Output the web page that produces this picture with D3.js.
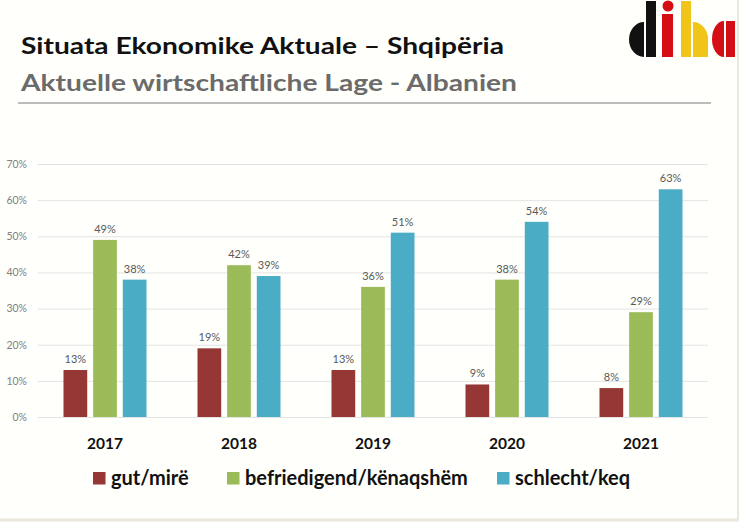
<!DOCTYPE html>
<html>
<head>
<meta charset="utf-8">
<script src="https://cdn.jsdelivr.net/npm/d3@7"></script>
<style>
	html, body { margin:0; padding:0; background:#fffffc; }
	#chart { width:744px; height:522px; }
	text { font-family: Lato, "Open Sans", sans-serif; }
</style>
</head>
<body>
<div id="chart"></div>
<script>

const years = ["2017","2018","2019","2020","2021"];
const seriesNames = ["gut/mirë","befriedigend/kënaqshëm","schlecht/keq"];
const gutValues = [13,19,13,9,8];
const befriedigendValues = [49,42,36,38,29];
const schlechtValues = [38,39,51,54,63];
const yTicks = [0,10,20,30,40,50,60,70];

const colors = ["#953735","#9bbb59","#4bacc6"];

function drawChart(rootDOM){

	const W = 744;
	const H = 522;
	const m = {t:164,r:36,b:105,l:38};

	const svg = d3.select(rootDOM)
		.append("svg")
		.attr("width", W)
		.attr("height", H);

	// frame edges
	svg.append("rect")
		.attr("x",0).attr("y",0)
		.attr("width",W).attr("height",H)
		.attr("fill","#fffffc");
	svg.append("line")
		.attr("x1",738).attr("x2",738).attr("y1",0).attr("y2",520)
		.attr("stroke","#ece9dc").attr("stroke-width",2);
	svg.append("line")
		.attr("x1",0).attr("x2",739).attr("y1",520).attr("y2",520)
		.attr("stroke","#ece9dc").attr("stroke-width",3);

	// titles
	svg.append("text")
		.attr("x",21).attr("y",54)
		.attr("textLength",483)
		.attr("lengthAdjust","spacingAndGlyphs")
		.style("font-size","23px")
		.style("font-weight","bold")
		.attr("fill","#111")
		.text("Situata Ekonomike Aktuale – Shqipëria");
	svg.append("text")
		.attr("x",21).attr("y",91)
		.attr("textLength",496)
		.attr("lengthAdjust","spacingAndGlyphs")
		.style("font-size","23px")
		.style("font-weight","bold")
		.attr("fill","#6b6b6b")
		.text("Aktuelle wirtschaftliche Lage - Albanien");
	svg.append("line")
		.attr("x1",18).attr("x2",711).attr("y1",103).attr("y2",103)
		.attr("stroke","#a6a6a6").attr("stroke-width",1.5);

	// logo
	const logo = svg.append("g").attr("class","logo");
	logo.append("path")
		.attr("d","M644,22 A15,17.5 0 0 0 644,57 Z")
		.attr("fill","#111");
	logo.append("rect").attr("x",646).attr("y",1).attr("width",10).attr("height",56).attr("fill","#111");
	logo.append("rect").attr("x",662).attr("y",14).attr("width",11).attr("height",43).attr("fill","#d40e14");
	logo.append("circle").attr("cx",668).attr("cy",6).attr("r",5.5).attr("fill","#d40e14");
	logo.append("rect").attr("x",681).attr("y",1).attr("width",10).attr("height",56).attr("fill","#f0c419");
	logo.append("path")
		.attr("d","M693,22 A15,17 0 0 1 708,39 L708,57 L693,57 Z")
		.attr("fill","#f0c419");
	logo.append("path")
		.attr("d","M724,21 A12,18 0 0 0 724,57 Z")
		.attr("fill","#d40e14");
	logo.append("rect").attr("x",726).attr("y",21).attr("width",9).attr("height",36).attr("fill","#d40e14");

	// scales
	const x0 = d3.scaleBand()
		.domain(years)
		.range([m.l, W - m.r])
		.padding(0);

	const x1 = d3.scaleBand()
		.domain(seriesNames)
		.range([25.5, x0.bandwidth() - 25.5])
		.paddingInner(0.2)
		.paddingOuter(0);

	const y = d3.scaleLinear()
		.domain([0,70])
		.range([H - m.b, m.t]);

	// grid
	const yAxis = d3.axisLeft(y)
		.tickValues(yTicks)
		.tickSize(-(W - m.r - m.l))
		.tickPadding(11)
		.tickFormat(d => d + "%");

	const gy = svg.append("g")
		.attr("transform",`translate(${m.l},0)`)
		.call(yAxis);
	gy.select(".domain").remove();
	gy.selectAll(".tick line").attr("stroke","#e3e3e3").attr("stroke-width",1);
	gy.selectAll(".tick text")
		.attr("fill","#7f7f7f")
		.style("font-size","10.5px")
		.style("font-family","Lato, sans-serif");

	const rows = years.map((yr,i) => ({
		year: yr,
		vals: [gutValues[i], befriedigendValues[i], schlechtValues[i]]
	}));

	const groups = svg.selectAll(".group")
		.data(rows)
		.enter()
		.append("g")
		.attr("class","group")
		.attr("transform", d => `translate(${x0(d.year)},0)`);

	groups.selectAll("rect")
		.data(d => d.vals.map((v,j) => ({name:seriesNames[j], v:v, c:colors[j]})))
		.enter()
		.append("rect")
		.attr("x", d => x1(d.name))
		.attr("width", x1.bandwidth())
		.attr("y", d => y(d.v))
		.attr("height", d => y(0) - y(d.v))
		.attr("fill", d => d.c);

	groups.selectAll(".lbl")
		.data(d => d.vals.map((v,j) => ({name:seriesNames[j], v:v})))
		.enter()
		.append("text")
		.attr("class","lbl")
		.attr("x", d => x1(d.name) + x1.bandwidth()/2)
		.attr("y", d => y(d.v) - 7)
		.attr("text-anchor","middle")
		.attr("fill","#595959")
		.style("font-size","11px")
		.text(d => d.v + "%");

	// year labels
	svg.selectAll(".yr")
		.data(years)
		.enter()
		.append("text")
		.attr("class","yr")
		.attr("x", d => x0(d) + x0.bandwidth()/2)
		.attr("y", 449)
		.attr("text-anchor","middle")
		.attr("fill","#111")
		.style("font-size","15.5px")
		.style("font-weight","bold")
		.text(d => d);

	// legend
	const legendX = [93, 227, 497];
	const lg = svg.selectAll(".leg")
		.data(seriesNames)
		.enter()
		.append("g")
		.attr("class","leg")
		.attr("transform", (d,i) => `translate(${legendX[i]},472)`);
	lg.append("rect")
		.attr("x",0).attr("y",0)
		.attr("width",12.5).attr("height",12.5)
		.attr("fill",(d,i) => colors[i]);
	lg.append("text")
		.attr("x",18).attr("y",13)
		.attr("fill","#111")
		.style("font-size","20px")
		.style("font-weight","bold")
		.text(d => d);
}

drawChart(document.getElementById("chart"));
</script>
</body>
</html>
